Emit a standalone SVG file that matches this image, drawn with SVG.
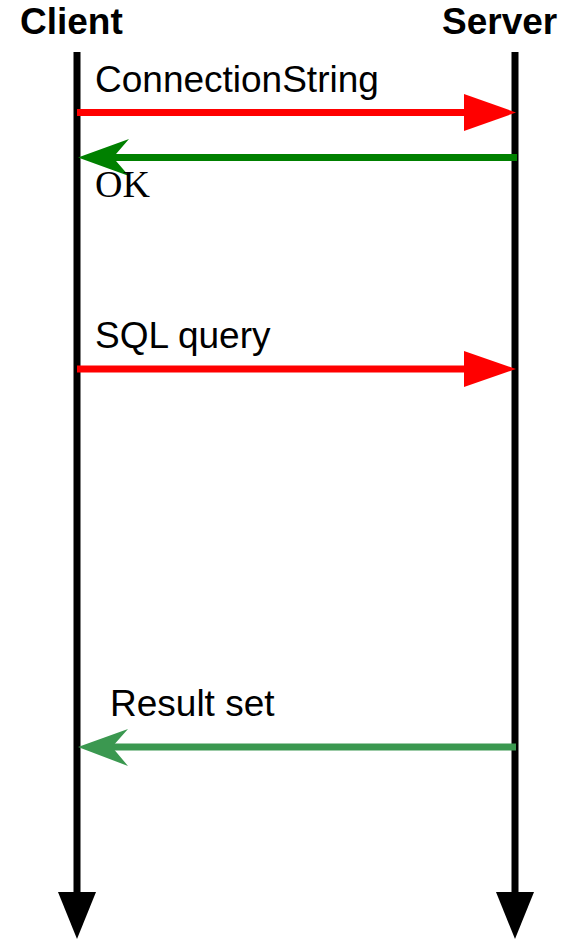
<svg xmlns="http://www.w3.org/2000/svg" width="567" height="939" viewBox="0 0 567 939">
<style>
.title{font-family:"Liberation Sans",Arial,sans-serif;font-weight:bold;font-size:37px;fill:#000}
.lbl{font-family:"Liberation Sans",Arial,sans-serif;font-size:37px;fill:#000}
.serif{font-family:"Liberation Serif","Times New Roman",serif;font-size:38px;fill:#000}
.life{stroke:#000;stroke-width:7;fill:none}
.red{stroke:#ff0000;stroke-width:7;fill:none}
.green{stroke:#008000;stroke-width:7;fill:none}
.green2{stroke:#3b9850;stroke-width:7;fill:none}
</style>
<rect width="567" height="939" fill="#fff"/>
<g id="client">
  <text class="title" x="20" y="34">Client</text>
  <line class="life" x1="77" y1="52" x2="77" y2="895"/>
  <polygon points="58,892 96,892 77,939" fill="#000"/>
</g>
<g id="server">
  <text class="title" x="442" y="34">Server</text>
  <line class="life" x1="515" y1="52" x2="515" y2="895"/>
  <polygon points="496,892 534,892 515,939" fill="#000"/>
</g>
<g id="connectors">
  <g id="msg1">
    <line class="red" x1="77" y1="112.5" x2="466" y2="112.5"/>
    <polygon points="464,94 464,131 516,112.5" fill="#ff0000"/>
    <text class="lbl" x="95" y="92">ConnectionString</text>
  </g>
  <g id="msg2">
    <line class="green" x1="517" y1="157.5" x2="110" y2="157.5"/>
    <polygon points="78,157.5 129,139 113,157.5 129,176" fill="#008000"/>
    <text class="serif" x="95" y="197">OK</text>
  </g>
  <g id="msg3">
    <line class="red" x1="77" y1="369" x2="466" y2="369"/>
    <polygon points="464,351 464,387 516,369" fill="#ff0000"/>
    <text class="lbl" x="95" y="348">SQL query</text>
  </g>
  <g id="msg4">
    <line class="green2" x1="516" y1="747" x2="110" y2="747"/>
    <polygon points="78,747 128,729 112,747 128,766" fill="#3b9850"/>
    <text class="lbl" x="110" y="716">Result set</text>
  </g>
</g>
</svg>
